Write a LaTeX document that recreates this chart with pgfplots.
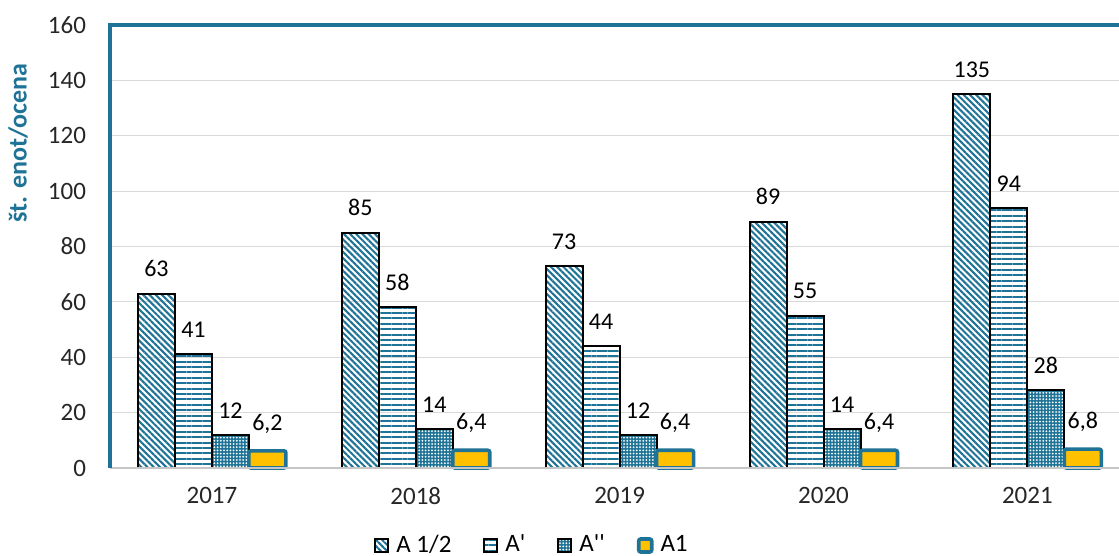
\documentclass[border=0pt]{standalone}
\usepackage{fontspec}
\setmainfont{Carlito}[Ligatures=TeXOff]
\usepackage{pgfplots}
\pgfplotsset{compat=1.18}
\usetikzlibrary{patterns.meta}
\definecolor{tl}{HTML}{1E7396}
\definecolor{gold}{HTML}{FFC000}
\definecolor{gridc}{HTML}{D9D9D9}
\begin{document}
\begin{tikzpicture}
\useasboundingbox (-55pt,-44pt) rectangle (504.5pt,234pt);
\begin{axis}[
  at={(0,0)}, anchor=south west,
  scale only axis, width=504.75pt, height=221.5pt,
  xmin=-0.5, xmax=4.452, ymin=0, ymax=160,
  ybar=0pt, bar width=18.5pt,
  xtick={0,1,2,3,4}, xticklabels={2017,2018,2019,2020,2021},
  ytick={0,20,...,160},
  ymajorgrids, grid style={gridc, line width=0.6pt},
  major tick length=0pt,
  axis line style={draw=none},
  clip=false,
  tick label style={font=\fontsize{12.5}{15}\selectfont, text=black!85},
  /pgf/number format/assume math mode=true,
  /pgf/number format/use comma,
  yticklabel style={xshift=-8.5pt},
  xticklabel style={yshift=-6pt},
  nodes near coords, point meta=y,
  every node near coord/.append style={font=\fontsize{12}{14}\selectfont, yshift=4.5pt, text=black},
  legend columns=4,
  legend style={at={(0.419,-0.1738)}, anchor=center, draw=none, fill=none,
    font=\fontsize{12.5}{15}\selectfont, /tikz/every even column/.append style={column sep=14pt},
    /tikz/every odd column/.append style={column sep=1.5pt}},
  legend image code/.code={\draw[#1] (0pt,-3.5pt) rectangle (6.5pt,3pt);},
]
\addplot[draw=black, line width=1pt, pattern={Lines[angle=-45,distance=2.2pt,line width=1.05pt]}, pattern color=tl]
  coordinates {(0,63)(1,85)(2,73)(3,89)(4,135)};
\addplot[draw=black, line width=1pt, pattern={Lines[distance=2.7pt,line width=1pt]}, pattern color=tl]
  coordinates {(0,41)(1,58)(2,44)(3,55)(4,94)};
\addplot[draw=black, line width=1pt, fill=tl, postaction={pattern={Dots[distance=1.6pt,radius=0.5pt]}, pattern color=white}]
  coordinates {(0,12)(1,14)(2,12)(3,14)(4,28)};
\addplot[draw=tl, line width=1.8pt, fill=gold, rounded corners=1pt]
  coordinates {(0,6.2)(1,6.4)(2,6.4)(3,6.4)(4,6.8)};
\legend{A 1/2, A', A'', A1}
\draw[gray!45, line width=1pt] (rel axis cs:0,0) -- (rel axis cs:1,0);
\draw[tl, line width=1.6pt] (rel axis cs:0,0) -- (rel axis cs:0,1) -- (rel axis cs:1,1);
\end{axis}
\node[rotate=90, text=tl, font=\bfseries\fontsize{13}{15}\selectfont] at (-46pt,162.5pt) {št. enot/ocena};
\end{tikzpicture}
\end{document}
